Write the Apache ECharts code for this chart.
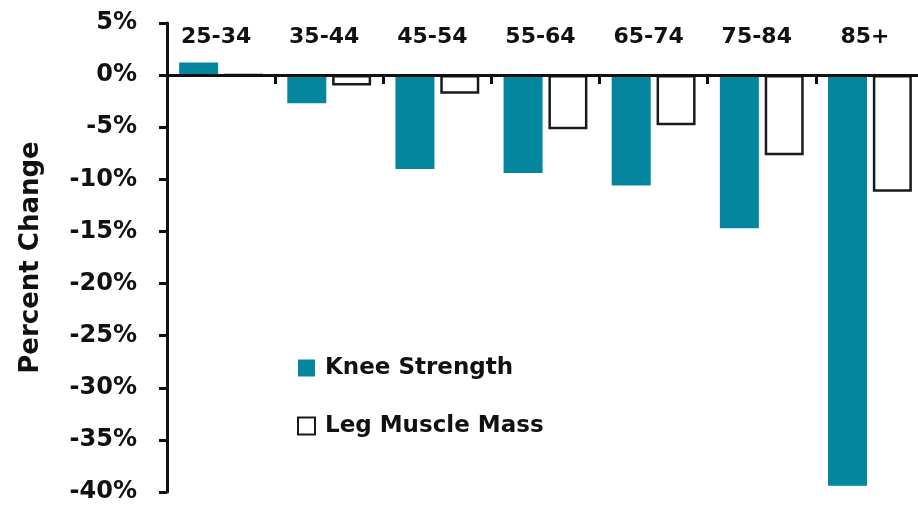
<!DOCTYPE html>
<html>
<head>
<meta charset="utf-8">
<script src="https://cdn.jsdelivr.net/npm/echarts/dist/echarts.min.js"></script>
<style>
  html, body { margin: 0; padding: 0; background: #ffffff; }
  #chart { width: 918px; height: 507px; }
</style>
</head>
<body>
<div id="chart"></div>
<script>
// Age groups and percent change relative to the youngest group
const ageGroups = ['25-34', '35-44', '45-54', '55-64', '65-74', '75-84', '85+'];
const kneeStrength = [1.2, -2.7, -9.0, -9.4, -10.6, -14.7, -39.4];
const legMuscleMass = [0, -1.0, -1.8, -5.2, -4.8, -7.7, -11.2];

// Value axis settings
const yMin = -40;
const yMax = 5;
const yStep = 5;

const FONT = 'DejaVu Sans';
const INK = '#111111';
const TEAL = '#03869e';

const chart = echarts.init(document.getElementById('chart'), null, { renderer: 'canvas' });

chart.setOption({
  animation: false,
  backgroundColor: '#ffffff',
  grid: { left: 167, top: 23, width: 757, bottom: 15, containLabel: false, outerBoundsMode: 'none' },
  legend: {
    orient: 'vertical',
    left: 297,
    top: 354,
    padding: 0,
    itemWidth: 17,
    itemHeight: 17,
    itemGap: 30,
    icon: 'rect',
    textStyle: {
      fontFamily: FONT, fontWeight: 'bold', fontSize: 23, lineHeight: 28,
      color: INK, padding: [0, 0, 0, 5]
    },
    data: ['Knee Strength', 'Leg Muscle Mass']
  },
  xAxis: {
    type: 'category',
    data: ageGroups,
    position: 'top',
    z: 3,
    axisLine: { onZero: true, lineStyle: { color: INK, width: 3 } },
    axisTick: { show: true, inside: true, length: 9, lineStyle: { color: INK, width: 3 } },
    axisLabel: {
      // category names sit just under the top edge of the plot
      margin: -25,
      padding: [0, 10, 0, 0],
      fontFamily: FONT, fontWeight: 'bold', fontSize: 22, color: INK
    },
    splitLine: { show: false }
  },
  yAxis: {
    type: 'value',
    min: yMin,
    max: yMax,
    interval: yStep,
    z: 3,
    name: 'Percent Change',
    nameLocation: 'middle',
    nameGap: 123,
    nameTextStyle: { fontFamily: FONT, fontWeight: 'bold', fontSize: 26, color: INK },
    axisLine: { show: true, lineStyle: { color: INK, width: 3 } },
    axisTick: { show: true, length: 8, lineStyle: { color: INK, width: 3 } },
    axisLabel: {
      margin: 30,
      formatter: '{value}%',
      fontFamily: FONT, fontWeight: 'bold', fontSize: 24, color: INK
    },
    splitLine: { show: false }
  },
  series: [
    {
      name: 'Knee Strength',
      type: 'bar',
      data: kneeStrength,
      barWidth: 39,
      barGap: '15%',
      itemStyle: { color: TEAL }
    },
    {
      name: 'Leg Muscle Mass',
      type: 'bar',
      data: legMuscleMass,
      barWidth: 39,
      barGap: '15%',
      itemStyle: { color: '#ffffff', borderColor: '#1a1a1a', borderWidth: 2.5 }
    }
  ]
});
</script>
</body>
</html>
